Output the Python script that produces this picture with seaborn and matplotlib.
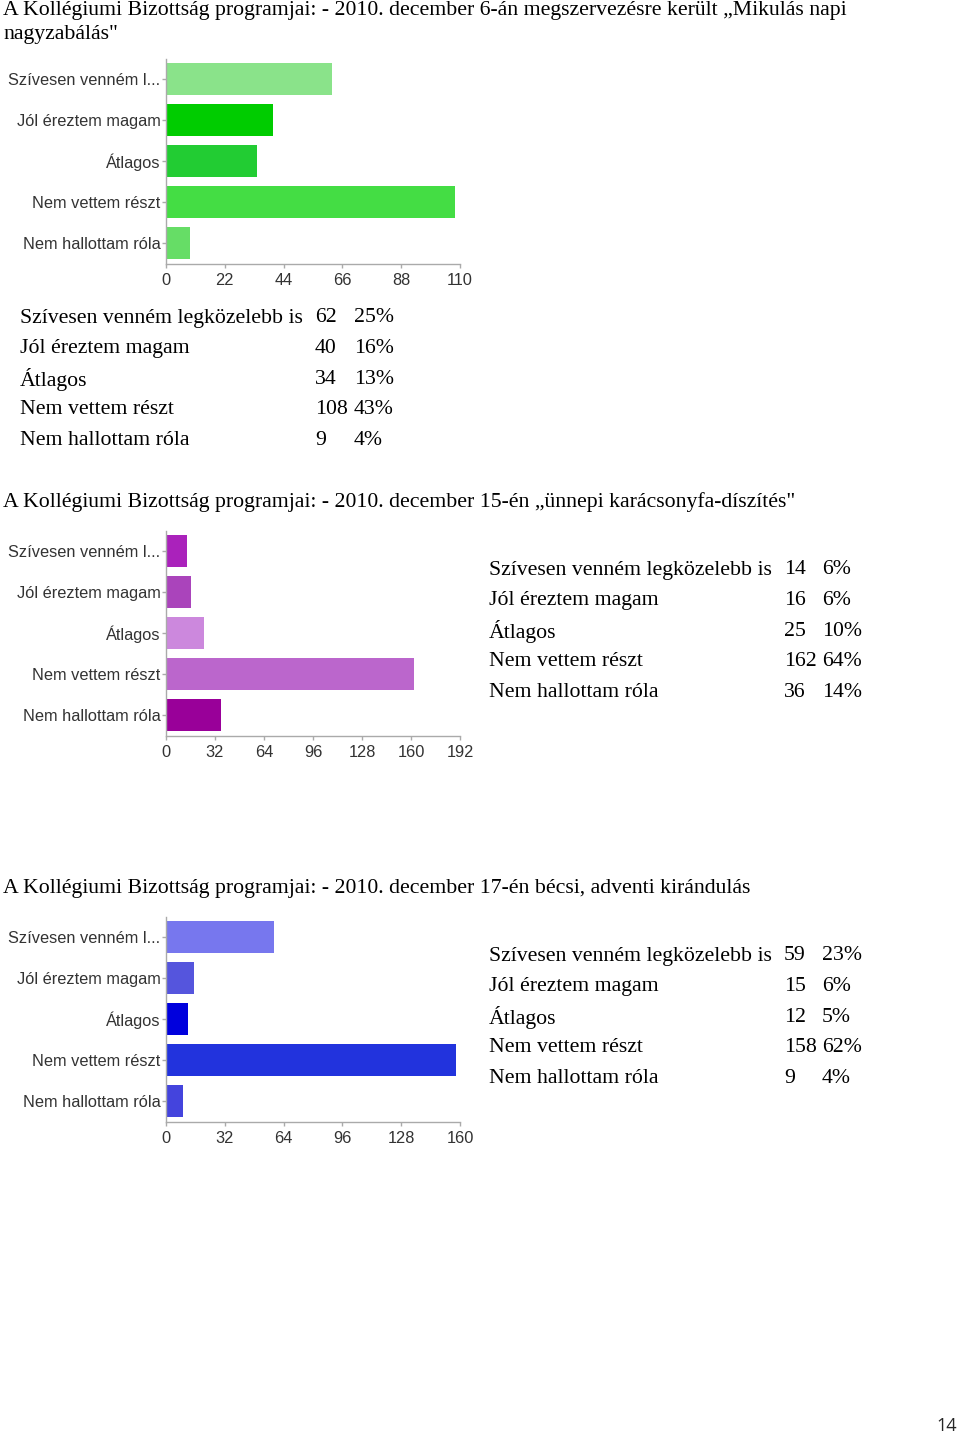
import matplotlib
matplotlib.use("Agg")
import matplotlib.pyplot as plt
import seaborn as sns
import pandas as pd

sns.set_theme(style="white")
plt.rcParams['font.family'] = ['Liberation Sans', 'DejaVu Sans']

# ---- data ----
categories_short = ["Szívesen venném l...", "Jól éreztem magam", "Átlagos",
                    "Nem vettem részt", "Nem hallottam róla"]
categories_full = ["Szívesen venném legközelebb is", "Jól éreztem magam", "Átlagos",
                   "Nem vettem részt", "Nem hallottam róla"]

titles = [
    "A Kollégiumi Bizottság programjai: - 2010. december 6-án megszervezésre került „Mikulás napi\nnagyzabálás\"",
    "A Kollégiumi Bizottság programjai: - 2010. december 15-én „ünnepi karácsonyfa-díszítés\"",
    "A Kollégiumi Bizottság programjai: - 2010. december 17-én bécsi, adventi kirándulás",
]

counts1 = [62, 40, 34, 108, 9]
pcts1 = ["25%", "16%", "13%", "43%", "4%"]
ticks1 = [0, 22, 44, 66, 88, 110]
colors1 = ["#8ae38a", "#00cc00", "#22cc33", "#44dd44", "#66dd66"]

counts2 = [14, 16, 25, 162, 36]
pcts2 = ["6%", "6%", "10%", "64%", "14%"]
ticks2 = [0, 32, 64, 96, 128, 160, 192]
colors2 = ["#aa22bb", "#aa44bb", "#cc88dd", "#bb66cc", "#990099"]

counts3 = [59, 15, 12, 158, 9]
pcts3 = ["23%", "6%", "5%", "62%", "4%"]
ticks3 = [0, 32, 64, 96, 128, 160]
colors3 = ["#7777ee", "#5555dd", "#0000dd", "#2233dd", "#4444dd"]

page_number = "14"

W, H = 960, 1436
fig = plt.figure(figsize=(W / 100, H / 100), dpi=100)
fig.patch.set_facecolor("white")


def px_axes(x, y, w, h):
    return fig.add_axes([x / W, 1 - (y + h) / H, w / W, h / H])


def ftext(x, y, s, **kw):
    fig.text(x / W, 1 - y / H, s, **kw)


serif = ['Liberation Serif', 'DejaVu Serif']
FS = 15.7


def draw_chart(top, counts, ticks, colors):
    ax = px_axes(166, top, 294, 205)
    df = pd.DataFrame({"cat": categories_short, "val": counts})
    sns.barplot(data=df, x="val", y="cat", hue="cat", palette=colors,
                legend=False, ax=ax, orient="h", width=0.8, saturation=1,
                edgecolor="none")
    ax.set_xlim(ticks[0], ticks[-1])
    ax.set_ylim(4.5, -0.5)
    ax.set_xticks(ticks)
    ax.set_xlabel("")
    ax.set_ylabel("")
    for s in ["top", "right"]:
        ax.spines[s].set_visible(False)
    for s in ["left", "bottom"]:
        ax.spines[s].set_color("#aaaaaa")
        ax.spines[s].set_linewidth(1)
    ax.tick_params(axis="both", which="both", length=3, width=1, color="#aaaaaa",
                   labelsize=11.8, labelcolor="#333333")
    ax.tick_params(axis="x", direction="out", bottom=True, pad=4)
    ax.tick_params(axis="y", direction="out", left=True, pad=1)
    ax.set_facecolor("white")
    return ax


def draw_table(x0, xc, xp, y0, counts, pcts):
    for i, (lab, c, p) in enumerate(zip(categories_full, counts, pcts)):
        y = y0 + i * 30.6
        ftext(x0, y, lab, family=serif, fontsize=FS, va="center", color="black")
        ftext(xc, y, str(c), family=serif, fontsize=FS, va="center", color="black")
        ftext(xp, y, p, family=serif, fontsize=FS, va="center", color="black")


def draw_title(y0, title):
    for j, line in enumerate(title.split("\n")):
        ftext(3, y0 + j * 24, line, family=serif, fontsize=FS, va="center", color="black")


# Titles
draw_title(11, titles[0])
draw_title(502, titles[1])
draw_title(888, titles[2])

draw_chart(58.5, counts1, ticks1, colors1)
draw_chart(530.5, counts2, ticks2, colors2)
draw_chart(916.5, counts3, ticks3, colors3)

draw_table(20, 315, 354, 318, counts1, pcts1)
draw_table(489, 784, 822, 570, counts2, pcts2)
draw_table(489, 784, 822, 956, counts3, pcts3)

ftext(947, 1426, page_number, fontsize=13, va="center", ha="center",
      family=['Open Sans', 'DejaVu Sans'])

fig.savefig("out.png", dpi=100, facecolor="white")
